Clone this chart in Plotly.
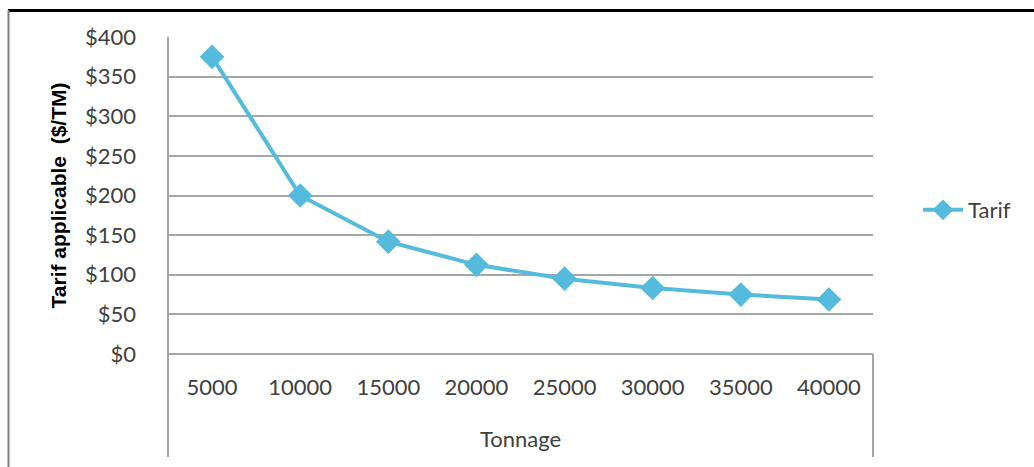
import plotly.graph_objects as go

categories = ["5000", "10000", "15000", "20000", "25000", "30000", "35000", "40000"]
tarif = [375, 200, 141.7, 112.5, 95, 83.3, 75, 68.8]
y_ticks = [0, 50, 100, 150, 200, 250, 300, 350, 400]
series_name = "Tarif"

W, H = 1034, 467
L, R, T, B = 168, 873, 37, 354  # plot area in pixels
pw, ph = R - L, B - T

def px_x(p):
    return (p - L) / pw

def px_y(p):
    return (B - p) / ph

LINE = "#55BBDC"
GRID = "#A6A6A6"
FONT = "Lato, 'Open Sans', sans-serif"

fig = go.Figure()
fig.add_trace(go.Scatter(
    x=list(range(len(categories))), y=tarif, name=series_name,
    mode="lines+markers",
    line=dict(color=LINE, width=4),
    marker=dict(symbol="diamond", size=19, color=LINE),
))

shapes = [
    # outer chart border: top black, left grey
    dict(type="line", xref="paper", yref="paper", x0=px_x(8), x1=px_x(1040), y0=px_y(10.5), y1=px_y(10.5),
         line=dict(color="black", width=3)),
    dict(type="line", xref="paper", yref="paper", x0=px_x(8.5), x1=px_x(8.5), y0=px_y(10), y1=px_y(470),
         line=dict(color="#808080", width=2)),
    # category-axis box lines
    dict(type="line", xref="paper", yref="paper", x0=0, x1=0, y0=1, y1=px_y(457),
         line=dict(color=GRID, width=2)),
    dict(type="line", xref="paper", yref="paper", x0=1, x1=1, y0=0, y1=px_y(457),
         line=dict(color=GRID, width=2)),
]

fig.update_layout(
    width=W, height=H,
    margin=dict(l=L, r=W - R, t=T, b=H - B),
    paper_bgcolor="white", plot_bgcolor="white",
    font=dict(family=FONT, size=22, color="#404040"),
    showlegend=True,
    legend=dict(x=px_x(918), y=px_y(210), xanchor="left", yanchor="middle",
                font=dict(family=FONT, size=22, color="#404040"), bgcolor="rgba(0,0,0,0)",
                itemwidth=40),
    xaxis=dict(
        range=[-0.5, len(categories) - 0.5],
        tickmode="array", tickvals=list(range(len(categories))), ticktext=categories,
        showgrid=False, zeroline=False, showline=False, ticks="",
        ticklabelstandoff=18,
        title=dict(text="Tonnage", standoff=32, font=dict(family=FONT, size=22, color="#404040")),
    ),
    yaxis=dict(
        range=[0, 400], tickmode="array", tickvals=y_ticks,
        ticktext=["$" + str(v) for v in y_ticks],
        showgrid=True, gridcolor=GRID, gridwidth=2,
        zeroline=True, zerolinecolor=GRID, zerolinewidth=2,
        showline=False, ticks="", ticklabelstandoff=31,
        title=dict(text="Tarif applicable  ($/TM)", standoff=12,
                   font=dict(family="Liberation Sans, Arial, sans-serif", size=21, color="black", weight="bold")),
    ),
    shapes=shapes,
)

fig.write_html("out.html")
